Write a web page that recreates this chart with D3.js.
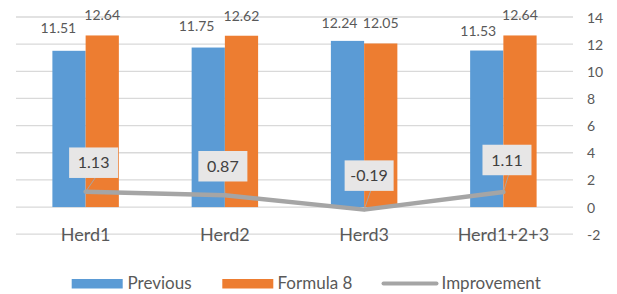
<!DOCTYPE html>
<html>
<head>
<meta charset="utf-8">
<script src="https://cdn.jsdelivr.net/npm/d3@7/dist/d3.min.js"></script>
<style>
  html, body { margin: 0; padding: 0; background: #fff; }
  svg { display: block; font-family: Lato, "Open Sans", sans-serif; }
</style>
</head>
<body>
<svg id="chart" width="617" height="294"></svg>
<script>
// ---- data ----
const categories = ["Herd1", "Herd2", "Herd3", "Herd1+2+3"];
const previous = [11.51, 11.75, 12.24, 11.53];
const formula8 = [12.64, 12.62, 12.05, 12.64];
const improvement = [1.13, 0.87, -0.19, 1.11];
const yTicks = [-2, 0, 2, 4, 6, 8, 10, 12, 14];
const seriesNames = ["Previous", "Formula 8", "Improvement"];

// ---- layout ----
const plot = { left: 16, right: 573, top: 17, bottom: 234.2 };
const colors = { prev: "#5b9bd5", f8: "#ed7d31", imp: "#a5a5a5", grid: "#d9d9d9", text: "#595959" };
// label nudges (layout only)
const prevLabelNudge = [[-10.7, -2.5], [-11.7, -2], [-8, 2.5], [-8.5, 0]];
const boxOffset = [[8, -29], [-2, -29], [5, -34], [3.6, -32]];

const svg = d3.select("#chart");

const x = d3.scaleBand().domain(categories).range([plot.left, plot.right]).padding(0);
const y = d3.scaleLinear().domain([-2, 14]).range([plot.bottom, plot.top]);
const barW = x.bandwidth() / (2 + 2.19);

// gridlines
svg.append("g").selectAll("line").data(yTicks).join("line")
  .attr("x1", plot.left).attr("x2", plot.right)
  .attr("y1", d => y(d)).attr("y2", d => y(d))
  .attr("stroke", colors.grid).attr("stroke-width", 1.3);

// right axis labels
const axis = d3.axisRight(y).tickValues(yTicks).tickSize(0).tickPadding(0).tickFormat(d => String(d));
const ag = svg.append("g").attr("transform", `translate(587,0)`).call(axis);
ag.select(".domain").remove();
ag.selectAll("text").attr("fill", colors.text).attr("font-size", 14)
  .attr("font-family", "Lato, sans-serif").attr("x", 0).attr("dy", "0.36em");

// bars
const cx = d => x(d) + x.bandwidth() / 2;
svg.append("g").selectAll("rect").data(categories).join("rect")
  .attr("x", d => cx(d) - barW).attr("width", barW)
  .attr("y", (d, i) => y(previous[i])).attr("height", (d, i) => y(0) - y(previous[i]))
  .attr("fill", colors.prev);
svg.append("g").selectAll("rect").data(categories).join("rect")
  .attr("x", d => cx(d)).attr("width", barW)
  .attr("y", (d, i) => y(formula8[i])).attr("height", (d, i) => y(0) - y(formula8[i]))
  .attr("fill", colors.f8);

// value labels
svg.append("g").selectAll("text").data(categories).join("text")
  .attr("x", (d, i) => cx(d) - barW / 2 + prevLabelNudge[i][0])
  .attr("y", (d, i) => y(previous[i]) - 15 + prevLabelNudge[i][1])
  .attr("text-anchor", "middle").attr("font-size", 14).attr("fill", colors.text)
  .text((d, i) => previous[i].toFixed(2));
svg.append("g").selectAll("text").data(categories).join("text")
  .attr("x", d => cx(d) + barW / 2)
  .attr("y", (d, i) => y(formula8[i]) - 15)
  .attr("text-anchor", "middle").attr("font-size", 14).attr("fill", colors.text)
  .text((d, i) => formula8[i].toFixed(2));

// category labels
svg.append("g").selectAll("text").data(categories).join("text")
  .attr("x", d => cx(d)).attr("y", 240.5)
  .attr("text-anchor", "middle").attr("font-size", 18).attr("fill", colors.text)
  .text(d => d);

// improvement line
const line = d3.line().x((d, i) => cx(categories[i])).y(d => y(d));
svg.append("path").datum(improvement)
  .attr("d", line).attr("fill", "none").attr("stroke", colors.imp)
  .attr("stroke-width", 4.5).attr("stroke-linejoin", "round").attr("stroke-linecap", "round");

// leader lines + label boxes
const boxW = 49, boxH = 30.5;
const lg = svg.append("g");
improvement.forEach((v, i) => {
  const px = cx(categories[i]), py = y(v);
  const bx = px + boxOffset[i][0], by = py + boxOffset[i][1];
  lg.append("line").attr("x1", px).attr("y1", py).attr("x2", bx + 1.5).attr("y2", by + boxH / 2)
    .attr("stroke", colors.imp).attr("stroke-width", 1);
  lg.append("rect").attr("x", bx - boxW / 2).attr("y", by - boxH / 2)
    .attr("width", boxW).attr("height", boxH).attr("fill", "#e7e6e6");
  lg.append("text").attr("x", bx).attr("y", by).attr("dy", "0.36em")
    .attr("text-anchor", "middle").attr("font-size", 16).attr("fill", "#404040")
    .text(v.toFixed(2));
});

// legend
const leg = svg.append("g");
leg.append("rect").attr("x", 71.7).attr("y", 279).attr("width", 51).attr("height", 9.5).attr("fill", colors.prev);
leg.append("text").attr("x", 127.5).attr("y", 289).attr("font-size", 17).attr("fill", colors.text).text(seriesNames[0]);
leg.append("rect").attr("x", 222.3).attr("y", 279).attr("width", 51).attr("height", 9.5).attr("fill", colors.f8);
leg.append("text").attr("x", 277.5).attr("y", 289).attr("font-size", 17).attr("fill", colors.text).text(seriesNames[1]);
leg.append("line").attr("x1", 383.5).attr("x2", 436.5).attr("y1", 283.5).attr("y2", 283.5)
  .attr("stroke", colors.imp).attr("stroke-width", 4).attr("stroke-linecap", "round");
leg.append("text").attr("x", 441.5).attr("y", 289).attr("font-size", 17).attr("fill", colors.text).text(seriesNames[2]);
</script>
</body>
</html>
